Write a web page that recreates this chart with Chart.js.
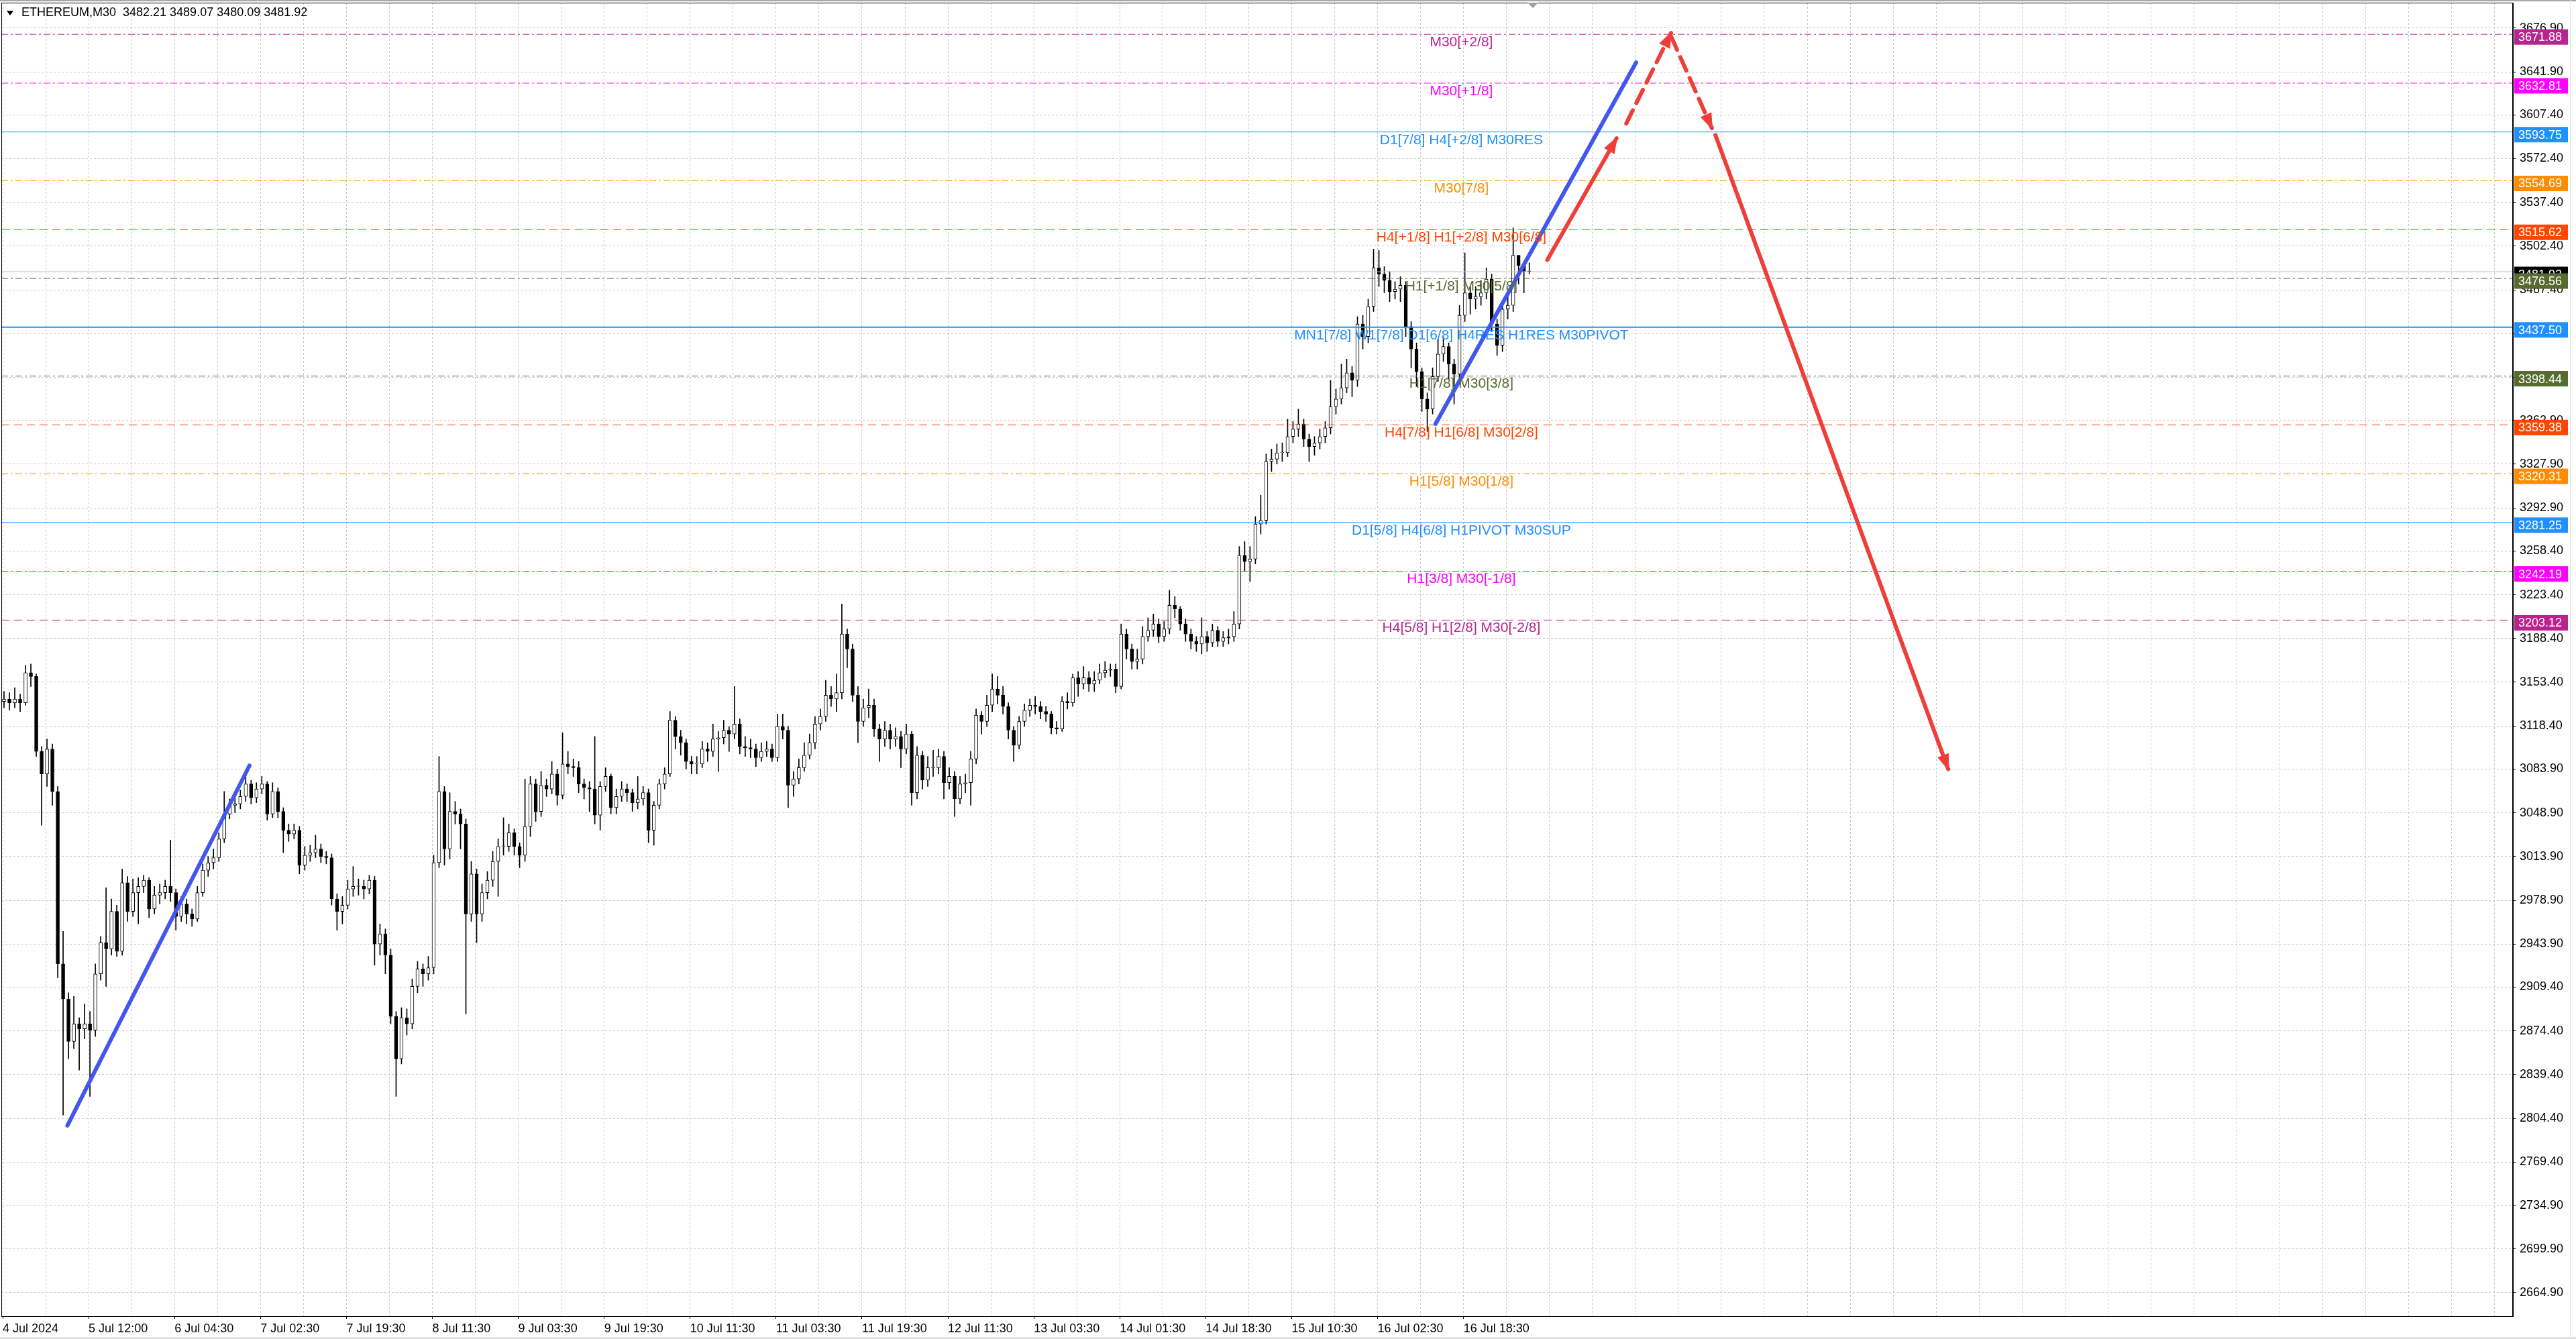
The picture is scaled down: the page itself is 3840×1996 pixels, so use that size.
<!DOCTYPE html>
<html>
<head>
<meta charset="utf-8">
<title>ETHEREUM,M30</title>
<script src="https://cdn.jsdelivr.net/npm/chart.js@4.4.0/dist/chart.umd.min.js"></script>
<style>
    html, body { margin: 0; padding: 0; background: #ffffff; overflow: hidden; }
    #chart { display: block; }
</style>
</head>
<body>
<canvas id="chart" width="3840" height="1996"></canvas>
<script>
// ETHEREUM M30 - candles, murrey levels and projection lines

const symbolTitle = 'ETHEREUM,M30  3482.21 3489.07 3480.09 3481.92';

// one candle per two M30 bars; x of candle i is bar 2*i + 0.5
const firstOpen = 3138;
const closes = [
    3140, 3137, 3140, 3137, 3161, 3158, 3098, 3080, 3100, 3066,
    2928, 2900, 2866, 2880, 2876, 2880, 2875, 2920, 2945, 2940,
    2970, 2938, 2993, 2970, 2985, 2990, 2995, 2972, 2983, 2985,
    2990, 2985, 2966, 2976, 2968, 2964, 2985, 3003, 3009, 3013,
    3028, 3048, 3055, 3056, 3062, 3072, 3061, 3068, 3072, 3048,
    3066, 3050, 3035, 3032, 3035, 3007, 3015, 3017, 3020, 3014,
    3013, 2980, 2970, 2975, 2988, 2990, 2990, 2988, 2995, 2944,
    2952, 2935, 2886, 2852, 2885, 2880, 2910, 2924, 2920, 2925,
    3009, 3066, 3020, 3050, 3048, 3040, 2968, 3000, 2968, 2985,
    2995, 3010, 3022, 3022, 3033, 3022, 3015, 3038, 3072, 3050,
    3071, 3068, 3080, 3063, 3088, 3086, 3085, 3072, 3069, 3068,
    3047, 3070, 3078, 3053, 3062, 3068, 3065, 3057, 3060, 3065,
    3035, 3055, 3072, 3080, 3123, 3110, 3105, 3090, 3088, 3088,
    3100, 3098, 3108, 3109, 3115, 3112, 3120, 3102, 3101, 3100,
    3093, 3098, 3100, 3093, 3118, 3115, 3071, 3076, 3085, 3095,
    3105, 3120, 3126, 3143, 3140, 3145, 3192, 3180, 3143, 3122,
    3133, 3135, 3116, 3108, 3115, 3108, 3110, 3100, 3112, 3065,
    3095, 3075, 3085, 3085, 3094, 3073, 3078, 3060, 3072, 3073,
    3092, 3127, 3122, 3135, 3148, 3143, 3134, 3115, 3103, 3122,
    3131, 3135, 3134, 3130, 3128, 3117, 3116, 3138, 3137, 3157,
    3152, 3157, 3152, 3155, 3161, 3163, 3164, 3150, 3192, 3180,
    3170, 3172, 3190, 3195, 3200, 3190, 3196, 3215, 3212, 3200,
    3192, 3186, 3184, 3190, 3185, 3195, 3186, 3189, 3190, 3200,
    3255, 3250, 3252, 3280, 3283, 3330, 3332, 3337, 3337, 3350,
    3356, 3360, 3348, 3342, 3345, 3350, 3357, 3374, 3380, 3389,
    3401, 3395, 3440, 3430, 3454, 3485, 3480, 3475, 3466, 3468,
    3471, 3438, 3420, 3402, 3380, 3372, 3398, 3416, 3422, 3408,
    3400, 3447, 3465, 3460, 3462, 3465, 3476, 3440, 3423, 3452,
    3455, 3495, 3487, 3482, 3481.92
];
const highs = [
    3146, 3145, 3149, 3144, 3167, 3168, 3160, 3102, 3108, 3104,
    3070, 2954, 2905, 2902, 2885, 2896, 2890, 2928, 2950, 2989,
    2980, 2975, 3004, 2998, 2996, 2997, 2999, 2997, 2990, 2992,
    2995, 3027, 2988, 2982, 2980, 2972, 2990, 3008, 3014, 3020,
    3033, 3066, 3060, 3062, 3067, 3080, 3075, 3073, 3078, 3074,
    3073, 3069, 3053, 3040, 3040, 3038, 3022, 3023, 3031, 3024,
    3018, 3016, 2984, 2982, 2995, 3006, 2996, 2995, 2999, 2998,
    2960, 2956, 2940, 2890, 2893, 2892, 2916, 2930, 2928, 2934,
    3015, 3094, 3070, 3065, 3058, 3052, 3044, 3010, 3004, 2992,
    3002, 3018, 3028, 3045, 3040, 3036, 3025, 3076, 3078, 3076,
    3082, 3076, 3090, 3084, 3113, 3098, 3092, 3090, 3076, 3074,
    3110, 3074, 3085, 3080, 3068, 3074, 3072, 3068, 3078, 3070,
    3068, 3058, 3076, 3085, 3130, 3126, 3115, 3108, 3094, 3094,
    3106, 3105, 3120, 3114, 3123, 3118, 3150, 3124, 3110, 3108,
    3104, 3105, 3106, 3104, 3128, 3128, 3118, 3082, 3092, 3105,
    3112, 3126, 3132, 3155, 3150, 3160, 3216, 3196, 3184, 3150,
    3140, 3148, 3140, 3120, 3122, 3120, 3117, 3114, 3120, 3114,
    3102, 3098, 3094, 3099, 3100, 3098, 3085, 3082, 3078, 3080,
    3098, 3132, 3130, 3143, 3160, 3158, 3150, 3137, 3118, 3126,
    3136, 3140, 3142, 3138, 3134, 3130, 3122, 3142, 3145, 3160,
    3162, 3166, 3162, 3162, 3168, 3170, 3168, 3168, 3200, 3196,
    3184, 3180, 3198, 3205, 3208, 3204, 3202, 3227, 3222, 3214,
    3204, 3196, 3190, 3205, 3194, 3200, 3198, 3194, 3196, 3210,
    3262, 3266, 3262, 3286, 3303, 3336, 3340, 3344, 3345, 3364,
    3362, 3372, 3364, 3352, 3350, 3356, 3362, 3395, 3388, 3408,
    3412, 3406, 3446, 3447, 3460, 3500, 3499, 3486, 3482, 3474,
    3478, 3474, 3442, 3425, 3405, 3385, 3405, 3428, 3430, 3425,
    3412, 3455, 3497, 3470, 3470, 3475, 3485, 3480, 3444, 3458,
    3462, 3517, 3495, 3490, 3489.07
];
const lows = [
    3133, 3131, 3133, 3130, 3135, 3150, 3094, 3039, 3070, 3055,
    2917, 2807, 2852, 2860, 2843, 2868, 2822, 2870, 2915, 2910,
    2935, 2934, 2935, 2962, 2966, 2960, 2985, 2965, 2968, 2976,
    2980, 2978, 2955, 2962, 2960, 2958, 2962, 2982, 2998, 3004,
    3010, 3025, 3044, 3049, 3052, 3058, 3056, 3057, 3064, 3043,
    3045, 3045, 3017, 3026, 3028, 3000, 3003, 3010, 3013, 3009,
    3008, 2975, 2955, 2960, 2972, 2982, 2983, 2980, 2984, 2927,
    2935, 2920, 2880, 2822, 2848, 2871, 2876, 2905, 2910, 2915,
    2920, 3005, 3007, 3012, 3040, 3020, 2888, 2962, 2945, 2962,
    2980, 2990, 2982, 3015, 3018, 3015, 3005, 3010, 3030, 3042,
    3046, 3062, 3064, 3055, 3060, 3080, 3078, 3065, 3060, 3050,
    3040, 3035, 3066, 3048, 3048, 3058, 3058, 3050, 3052, 3055,
    3025, 3023, 3052, 3068, 3078, 3100, 3095, 3084, 3080, 3080,
    3085, 3090, 3094, 3082, 3104, 3098, 3108, 3096, 3094, 3093,
    3086, 3090, 3094, 3090, 3090, 3108, 3053, 3062, 3072, 3082,
    3092, 3100, 3115, 3122, 3134, 3130, 3140, 3165, 3138, 3105,
    3118, 3125, 3110, 3090, 3102, 3100, 3102, 3085, 3096, 3055,
    3060, 3068, 3070, 3078, 3080, 3060, 3068, 3046, 3056, 3065,
    3055, 3088, 3112, 3118, 3130, 3136, 3128, 3108, 3090, 3100,
    3118, 3126, 3128, 3124, 3122, 3112, 3112, 3114, 3132, 3134,
    3142, 3148, 3146, 3146, 3152, 3157, 3158, 3145, 3148, 3172,
    3164, 3164, 3168, 3186, 3190, 3185, 3186, 3192, 3205, 3195,
    3186, 3180, 3178, 3176, 3178, 3182, 3182, 3182, 3184, 3186,
    3196, 3242, 3234, 3248, 3272, 3280, 3322, 3328, 3330, 3334,
    3345, 3350, 3342, 3330, 3335, 3340, 3345, 3352, 3368, 3376,
    3385, 3382, 3390, 3420, 3425, 3450, 3470, 3465, 3458, 3460,
    3458, 3430, 3405, 3390, 3370, 3354, 3368, 3394, 3410, 3396,
    3376, 3396, 3442, 3448, 3452, 3455, 3460, 3434, 3415, 3418,
    3444, 3450, 3472, 3465, 3480.09
];

// time axis: labels every 32 bars, grid every 16 bars
const timeTickBars = [0, 32, 64, 96, 128, 160, 192, 224, 256, 288, 320, 352, 384, 416, 448, 480, 512, 544];
const timeTickLabels = [
    '4 Jul 2024', '5 Jul 12:00', '6 Jul 04:30', '7 Jul 02:30', '7 Jul 19:30', '8 Jul 11:30',
    '9 Jul 03:30', '9 Jul 19:30', '10 Jul 11:30', '11 Jul 03:30', '11 Jul 19:30', '12 Jul 11:30',
    '13 Jul 03:30', '14 Jul 01:30', '14 Jul 18:30', '15 Jul 10:30', '16 Jul 02:30', '16 Jul 18:30'
];
const priceTicks = [
    3676.90, 3641.90, 3607.40, 3572.40, 3537.40, 3502.40, 3467.40, 3432.40, 3397.40, 3362.90,
    3327.90, 3292.90, 3258.40, 3223.40, 3188.40, 3153.40, 3118.40, 3083.90, 3048.90, 3013.90,
    2978.90, 2943.90, 2909.40, 2874.40, 2839.40, 2804.40, 2769.40, 2734.90, 2699.90, 2664.90
];

// murrey math levels
const levelValues = [3671.88, 3632.81, 3593.75, 3554.69, 3515.62, 3476.56, 3437.50,
    3398.44, 3359.38, 3320.31, 3281.25, 3242.19, 3203.12];
const levelNames = [
    'M30[+2/8]',
    'M30[+1/8]',
    'D1[7/8] H4[+2/8] M30RES',
    'M30[7/8]',
    'H4[+1/8] H1[+2/8] M30[6/8]',
    'H1[+1/8] M30[5/8]',
    'MN1[7/8] W1[7/8] D1[6/8] H4RES H1RES M30PIVOT',
    'H1[7/8] M30[3/8]',
    'H4[7/8] H1[6/8] M30[2/8]',
    'H1[5/8] M30[1/8]',
    'D1[5/8] H4[6/8] H1PIVOT M30SUP',
    'H1[3/8] M30[-1/8]',
    'H4[5/8] H1[2/8] M30[-2/8]'
];
const levelColors = ['#b8238f', '#ff00ff', '#1e90ff', '#ff8c00', '#ff4500', '#556b2f', '#1e90ff',
    '#556b2f', '#ff4500', '#ff8c00', '#1e90ff', '#ff00ff', '#b8238f'];
const levelStyles = ['dashdot', 'dashdot', 'solid', 'dashdot', 'dash', 'dashdot', 'solid',
    'dashdot', 'dash', 'dashdot', 'solid', 'dashdot', 'dash'];
const levelWidths = [1, 1, 1, 1, 1, 1, 2, 1, 1, 1, 1, 1, 1];

const lastPrice = 3481.92;

// hand drawn trend lines and forecast arrows: [bar, price]
const blueTrendA = [[24.1, 2798.6], [91.9, 3086.7]];
const blueTrendB = [[533.6, 3360.2], [608.3, 3649.4]];
const redUp = [[575.2, 3491.4], [601.0, 3588.7]];
const redDashUp = [[604.6, 3600.5], [621.3, 3673.0]];
const redDashDown = [[621.3, 3670.3], [636.5, 3596.8]];
const redDown = [[637.8, 3591.3], [724.5, 3083.9]];

const FONT = "'Liberation Sans', Arial, sans-serif";
const X_MIN = -0.5;
const X_MAX = 934.8;
const Y_MIN = 2646.1;
const Y_MAX = 3697.2;
const LABEL_BAR = 543.2;
const BLUE = '#4157ee';
const RED = '#ee3e3a';

const dashes = { solid: [], dash: [12, 7], dashdot: [10, 4, 3, 4] };

const opens = closes.map((c, i) => (i === 0 ? firstOpen : closes[i - 1]));
const candleX = closes.map((c, i) => i * 2 + 0.5);

const bodies = closes.map((c, i) => ({ x: candleX[i], y: [Math.min(opens[i], c), Math.max(opens[i], c)] }));
const wicks = closes.map((c, i) => ({
    x: candleX[i],
    y: [Math.min(lows[i], opens[i], c), Math.max(highs[i], opens[i], c)]
}));
const bodyColors = closes.map((c, i) => (c >= opens[i] ? '#ffffff' : '#000000'));

const gridBars = [];
for (let b = 0; b <= X_MAX; b += 16) gridBars.push(b);

const toPoints = seg => seg.map(p => ({ x: p[0], y: p[1] }));

function trendDataset(seg, color, dash) {
    return {
        type: 'line',
        data: toPoints(seg),
        borderColor: color,
        borderWidth: 6,
        borderDash: dash || [],
        borderCapStyle: 'round',
        pointRadius: 0,
        tension: 0,
        order: 5
    };
}

const levelDatasets = levelValues.map((v, i) => ({
    type: 'line',
    data: [{ x: X_MIN, y: v }, { x: X_MAX, y: v }],
    borderColor: levelColors[i],
    borderWidth: levelWidths[i],
    borderDash: dashes[levelStyles[i]],
    pointRadius: 0,
    order: 10
}));

const priceLine = {
    type: 'line',
    data: [{ x: X_MIN, y: lastPrice }, { x: X_MAX, y: lastPrice }],
    borderColor: '#c0c0c0',
    borderWidth: 1,
    pointRadius: 0,
    order: 11
};

const arrowSegments = [redUp, redDashUp, redDashDown, redDown];

const overlayPlugin = {
    id: 'overlay',
    beforeDraw(chart) {
        const { ctx, width, height } = chart;
        ctx.save();
        ctx.fillStyle = '#ffffff';
        ctx.fillRect(0, 0, width, height);
        ctx.restore();
    },
    afterDatasetsDraw(chart) {
        const { ctx, scales: { x, y } } = chart;
        ctx.save();

        // arrow heads on the forecast path
        ctx.fillStyle = RED;
        arrowSegments.forEach(seg => {
            const x1 = x.getPixelForValue(seg[0][0]), y1 = y.getPixelForValue(seg[0][1]);
            const x2 = x.getPixelForValue(seg[1][0]), y2 = y.getPixelForValue(seg[1][1]);
            const a = Math.atan2(y2 - y1, x2 - x1);
            const c = Math.cos(a), s = Math.sin(a);
            const len = 22, half = 9;
            ctx.beginPath();
            ctx.moveTo(x2 + c * 3, y2 + s * 3);
            ctx.lineTo(x2 - c * len - s * half, y2 - s * len + c * half);
            ctx.lineTo(x2 - c * len + s * half, y2 - s * len - c * half);
            ctx.closePath();
            ctx.fill();
        });

        // level names in the middle of the chart
        ctx.font = `21px ${FONT}`;
        ctx.textAlign = 'center';
        ctx.textBaseline = 'middle';
        const lx = x.getPixelForValue(LABEL_BAR);
        levelValues.forEach((v, i) => {
            ctx.fillStyle = levelColors[i];
            ctx.fillText(levelNames[i], lx, y.getPixelForValue(v) + 12);
        });
        ctx.restore();
    },
    afterDraw(chart) {
        const { ctx, chartArea, scales: { x, y }, width, height } = chart;
        ctx.save();

        // price boxes on the right axis
        const boxX = chartArea.right + 2;
        const drawBox = (value, bg) => {
            const cy = y.getPixelForValue(value) + 4;
            ctx.fillStyle = bg;
            ctx.fillRect(boxX, cy - 11.5, 80, 23);
            ctx.fillStyle = '#ffffff';
            ctx.font = `18px ${FONT}`;
            ctx.textAlign = 'left';
            ctx.textBaseline = 'middle';
            ctx.fillText(value.toFixed(2), chartArea.right + 8, cy + 1);
        };
        drawBox(lastPrice, '#000000');
        levelValues.forEach((v, i) => drawBox(v, levelColors[i]));

        // plot frame
        ctx.strokeStyle = '#000000';
        ctx.lineWidth = 1;
        ctx.setLineDash([]);
        ctx.strokeRect(chartArea.left + 0.5, chartArea.top + 0.5,
            chartArea.right - chartArea.left - 1, chartArea.bottom - chartArea.top);

        // window edges
        ctx.fillStyle = '#a8a8a8';
        ctx.fillRect(0, 0, width, 2);
        ctx.fillStyle = '#e2e2e2';
        ctx.fillRect(0, height - 3, width, 3);
        ctx.fillRect(width - 9, 0, 1, height);

        // chart shift marker
        const sx = x.getPixelForValue(candleX[candleX.length - 1] + 1.3);
        ctx.fillStyle = '#a0a0a0';
        ctx.beginPath();
        ctx.moveTo(sx - 8, chartArea.top);
        ctx.lineTo(sx + 8, chartArea.top);
        ctx.lineTo(sx, chartArea.top + 8);
        ctx.closePath();
        ctx.fill();

        // header
        ctx.fillStyle = '#000000';
        ctx.beginPath();
        ctx.moveTo(10, 16);
        ctx.lineTo(20, 16);
        ctx.lineTo(15, 23);
        ctx.closePath();
        ctx.fill();
        ctx.font = `18px ${FONT}`;
        ctx.textAlign = 'left';
        ctx.textBaseline = 'middle';
        ctx.fillText(symbolTitle, 32, 19);
        ctx.restore();
    }
};

Chart.defaults.font.family = FONT;

new Chart(document.getElementById('chart').getContext('2d'), {
    type: 'bar',
    data: {
        datasets: [
            trendDataset(blueTrendA, BLUE),
            trendDataset(blueTrendB, BLUE),
            trendDataset(redUp, RED),
            trendDataset(redDashUp, RED, [22, 12]),
            trendDataset(redDashDown, RED, [22, 12]),
            trendDataset(redDown, RED),
            ...levelDatasets,
            priceLine,
            {
                type: 'bar',
                data: bodies,
                backgroundColor: bodyColors,
                borderColor: '#000000',
                borderWidth: 1,
                borderSkipped: false,
                barThickness: 5,
                minBarLength: 1,
                grouped: false,
                order: 20
            },
            {
                type: 'bar',
                data: wicks,
                backgroundColor: '#000000',
                borderWidth: 0,
                barThickness: 1,
                grouped: false,
                order: 21
            }
        ]
    },
    options: {
        responsive: false,
        devicePixelRatio: 1,
        animation: false,
        events: [],
        layout: { padding: { left: 2, top: 4, right: 0, bottom: 0 } },
        plugins: {
            legend: { display: false },
            tooltip: { enabled: false }
        },
        scales: {
            x: {
                type: 'linear',
                min: X_MIN,
                max: X_MAX,
                offset: false,
                afterBuildTicks: scale => { scale.ticks = gridBars.map(v => ({ value: v })); },
                afterFit: scale => { scale.height = 34; scale.paddingLeft = 0; scale.paddingRight = 0; },
                grid: {
                    offset: false,
                    color: '#c8c8c8',
                    lineWidth: 1,
                    tickLength: 4,
                    tickBorderDash: [],
                    tickColor: ctx => (ctx.tick && timeTickBars.includes(ctx.tick.value) ? '#000000' : 'rgba(0,0,0,0)')
                },
                border: { color: '#000000', width: 1, dash: [3, 3] },
                ticks: {
                    align: 'start',
                    padding: 4,
                    autoSkip: false,
                    maxRotation: 0,
                    minRotation: 0,
                    color: '#000000',
                    font: { size: 18, family: FONT },
                    callback: value => {
                        const idx = timeTickBars.indexOf(value);
                        return idx >= 0 ? timeTickLabels[idx] : '';
                    }
                }
            },
            y: {
                type: 'linear',
                position: 'right',
                min: Y_MIN,
                max: Y_MAX,
                afterBuildTicks: scale => { scale.ticks = priceTicks.map(v => ({ value: v })); },
                afterFit: scale => { scale.width = 94; scale.paddingTop = 0; scale.paddingBottom = 0; },
                grid: {
                    color: '#c8c8c8',
                    lineWidth: 1,
                    tickLength: 4,
                    tickColor: '#000000',
                    tickBorderDash: []
                },
                border: { color: '#000000', width: 1, dash: [3, 3] },
                ticks: {
                    padding: 6,
                    autoSkip: false,
                    color: '#000000',
                    font: { size: 18, family: FONT },
                    callback: value => Number(value).toFixed(2)
                }
            }
        }
    },
    plugins: [overlayPlugin]
});
</script>
</body>
</html>
